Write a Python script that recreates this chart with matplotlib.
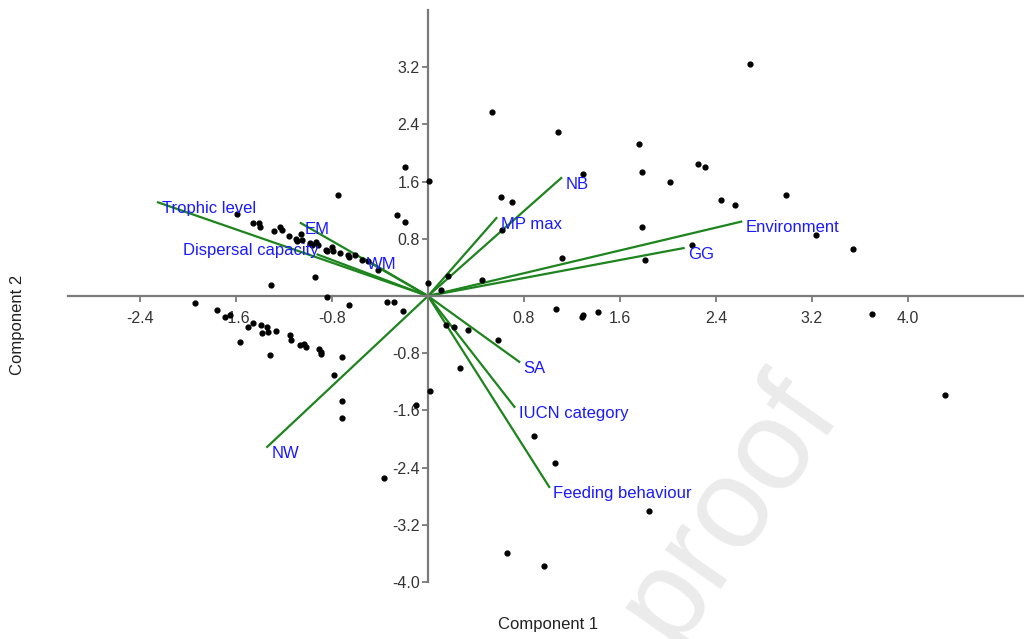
import matplotlib
matplotlib.use('Agg')
import matplotlib.pyplot as plt
import numpy as np

plt.rcParams.update({
    'font.family': ['Liberation Sans', 'DejaVu Sans'],
    'font.size': 12,
})

# PCA scores (Component 1, Component 2)
score_x = [-1.59, -1.46, -1.41, -1.40, -1.28, -1.23, -1.22, -1.16, -1.10, -1.09,
           -1.06, -1.05, -0.98, -0.97, -0.93, -0.92, -0.85, -0.84, -0.80, -0.79,
           -0.73, -0.67, -0.66, -0.61, -0.55, -0.50, -0.42, -0.75, -0.26, -0.19,
           -0.94, -1.31, 0.00, -0.84, -0.19, 0.01,
           -1.94, -1.76, -1.69, -1.65, -1.57, -1.50, -1.46, -1.39, -1.38, -1.34,
           -1.33, -1.27, -1.32, -1.15, -1.14, -1.07, -1.03, -1.02, -0.91, -0.89,
           -0.89, -0.72, -0.78, -0.72, -0.72, -0.66, -0.34, -0.28, -0.21, 0.02,
           -0.10, -0.37,
           0.53, 1.08, 0.61, 0.70, 0.62, 1.29, 1.76, 1.78, 2.02, 2.25, 2.31, 2.44,
           2.56, 2.98, 2.68, 1.78, 3.23, 3.54, 1.12, 1.81, 2.20, 0.45, 0.11, 0.17,
           1.07, 1.28, 1.29, 1.42, 3.70, 4.31, 0.15, 0.22, 0.33, 0.58, 0.27, 0.88,
           1.06, 1.84, 0.66, 0.97]
score_y = [1.14, 1.02, 1.02, 0.97, 0.91, 0.96, 0.92, 0.84, 0.80, 0.77,
           0.87, 0.78, 0.74, 0.72, 0.75, 0.72, 0.65, 0.63, 0.68, 0.63,
           0.60, 0.58, 0.54, 0.57, 0.50, 0.49, 0.37, 1.41, 1.13, 1.04,
           0.26, 0.16, 0.18, -0.02, 1.80, 1.61,
           -0.10, -0.20, -0.30, -0.27, -0.64, -0.44, -0.38, -0.41, -0.52, -0.44,
           -0.50, -0.49, -0.83, -0.55, -0.61, -0.69, -0.67, -0.72, -0.74, -0.78,
           -0.81, -0.85, -1.10, -1.47, -1.70, -0.12, -0.09, -0.08, -0.21, -1.33,
           -1.53, -2.54,
           2.57, 2.30, 1.38, 1.32, 0.92, 1.70, 2.12, 1.73, 1.59, 1.84, 1.80, 1.34,
           1.27, 1.41, 3.24, 0.96, 0.85, 0.66, 0.53, 0.51, 0.72, 0.23, 0.09, 0.28,
           -0.18, -0.30, -0.27, -0.22, -0.25, -1.39, -0.40, -0.44, -0.48, -0.62,
           -1.01, -1.96, -2.34, -3.00, -3.59, -3.77]

# loadings (biplot vectors)
variables = ['Trophic level', 'EM', 'Dispersal capacity', 'WM', 'NW', 'MP max',
             'NB', 'Environment', 'GG', 'SA', 'IUCN category', 'Feeding behaviour']
load_x = [-2.25, -1.06, -0.92, -0.54, -1.34, 0.57, 1.11, 2.61, 2.13, 0.76, 0.72, 1.01]
load_y = [1.31, 1.02, 0.58, 0.53, -2.11, 1.09, 1.65, 1.04, 0.67, -0.92, -1.55, -2.67]

xticks = [-2.4, -1.6, -0.8, 0.8, 1.6, 2.4, 3.2, 4.0]
yticks = [-4.0, -3.2, -2.4, -1.6, -0.8, 0.8, 1.6, 2.4, 3.2]

W, H = 1024, 639
fig = plt.figure(figsize=(W / 100, H / 100), dpi=100)
ax = fig.add_axes([68 / W, 57 / H, (W - 68) / W, 572 / H])
ax.set_xlim(-3.0, (W - 428) / 120)
ax.set_ylim(-4.0, 4.0)

# watermark of the source page
fig.text(0.712, 0.205, 'proof', fontsize=92, color='#ebebeb', rotation=55,
         ha='center', va='center', zorder=0)
ax.patch.set_alpha(0)

# axes through the origin
axis_col = '#7a7a7a'
for side in ['top', 'right']:
    ax.spines[side].set_visible(False)
ax.spines['left'].set_position(('data', 0))
ax.spines['bottom'].set_position(('data', 0))
for side in ['left', 'bottom']:
    ax.spines[side].set_color(axis_col)
    ax.spines[side].set_linewidth(1.6)

ax.set_xticks(xticks)
ax.set_xticklabels([f'{v:.1f}' for v in xticks])
ax.set_yticks(yticks)
ax.set_yticklabels([f'{v:.1f}' for v in yticks])
ax.tick_params(axis='both', direction='out', length=4, width=1.3, color=axis_col,
               labelsize=11.5, labelcolor='#333333')
ax.tick_params(axis='x', pad=6.5)
ax.tick_params(axis='y', pad=2)

# vectors; the dispersal label sits to the left of its arrow tip
for name, vx, vy in zip(variables, load_x, load_y):
    ax.plot([0, vx], [0, vy], color='#1e841e', lw=1.6, zorder=2)
    if name == 'Dispersal capacity':
        ha, off = 'right', (1, 3)
    else:
        ha, off = 'left', (3, -4.5)
    ax.annotate(name, (vx, vy), xytext=off, textcoords='offset points',
                ha=ha, va='center', color='#1a1aff', fontsize=12, zorder=4,
                annotation_clip=False)

# scores
ax.scatter(score_x, score_y, s=12, color='black', zorder=3, clip_on=False)

fig.text(548 / W, 1 - 625 / H, 'Component 1', ha='center', va='center',
         fontsize=12, color='#222222')
fig.text(18 / W, 1 - 325 / H, 'Component 2', ha='center', va='center',
         fontsize=12, color='#222222', rotation=90)

fig.savefig('out.png', dpi=100)
